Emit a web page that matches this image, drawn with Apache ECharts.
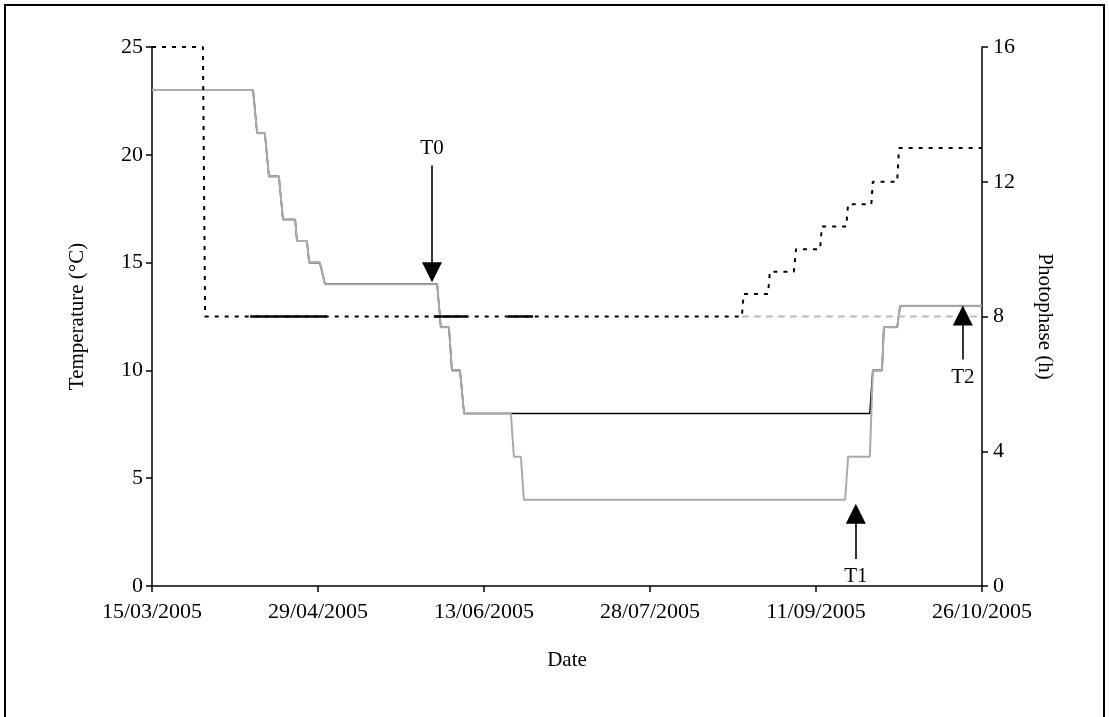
<!DOCTYPE html>
<html>
<head>
<meta charset="utf-8">
<script src="https://cdn.jsdelivr.net/npm/echarts@6/dist/echarts.min.js"></script>
<style>
  html, body { margin: 0; padding: 0; background: #fff; }
  #chart { width: 1109px; height: 717px; }
</style>
</head>
<body>
<div id="chart"></div>
<script>
// x values are days elapsed since 15/03/2005
const dateTickLabels = ['15/03/2005', '29/04/2005', '13/06/2005', '28/07/2005', '11/09/2005', '26/10/2005'];

// Temperature (°C), cold-winter treatment (grey line, down to 4 °C)
const tempCold = [
  [0, 23], [27.4, 23], [28.5, 21], [30.6, 21], [31.7, 19], [34.4, 19], [35.5, 17], [38.8, 17],
  [39.3, 16], [42.0, 16], [42.6, 15], [45.5, 15], [46.9, 14], [77.3, 14], [78.3, 12], [80.5, 12],
  [81.3, 10], [83.5, 10], [84.6, 8], [97.3, 8], [98.1, 6], [100.0, 6], [100.8, 4], [187.9, 4],
  [188.7, 6], [194.6, 6], [195.4, 10], [197.9, 10], [198.4, 12], [202.0, 12], [202.8, 13], [225, 13]
];

// Temperature (°C), mild-winter treatment (black line, stays at 8 °C)
const tempMild = [
  [0, 23], [27.4, 23], [28.5, 21], [30.6, 21], [31.7, 19], [34.4, 19], [35.5, 17], [38.8, 17],
  [39.3, 16], [42.0, 16], [42.6, 15], [45.5, 15], [46.9, 14], [77.3, 14], [78.3, 12], [80.5, 12],
  [81.3, 10], [83.5, 10], [84.6, 8], [194.6, 8], [195.4, 10], [197.9, 10], [198.4, 12], [202.0, 12],
  [202.8, 13], [225, 13]
];

// Photophase (h), lengthening treatment (black dotted)
const photoLong = [
  [0, 16], [13.8, 16], [14.4, 8], [159.9, 8], [160.4, 8.67], [167.0, 8.67], [167.5, 9.33],
  [174.0, 9.33], [174.6, 10], [181.1, 10], [181.6, 10.67], [188.2, 10.67], [188.7, 11.33],
  [195.0, 11.33], [195.4, 12], [202.0, 12], [202.5, 13], [225, 13]
];

// Photophase (h), constant short-day treatment (grey dashed)
const photoShort = [[159.9, 8], [225, 8]];

// Photophase (h), stretches where the 8 h lines coincide as solid
const photoOverlap = [
  [26.6, 8], [47.4, 8], [47.5, '-'],
  [76.4, 8], [85.4, 8], [85.5, '-'],
  [96.5, 8], [103.3, 8]
];

// Sampling-time markers: [name, day, tail value, head value] on the temperature axis
const sampleArrows = [
  ['T0', 75.9, 19.5, 14.55],
  ['T1', 190.8, 1.25, 3.35],
  ['T2', 219.8, 10.5, 12.55]
];

const serif = "'Liberation Serif', 'Times New Roman', serif";

const chart = echarts.init(document.getElementById('chart'), null, { renderer: 'canvas' });

const axisCommon = {
  axisLine: { show: true, lineStyle: { color: '#000', width: 1.5 } },
  axisTick: { show: true, inside: false, length: 6, lineStyle: { color: '#000', width: 1.5 } },
  splitLine: { show: false },
  axisLabel: { color: '#000', fontFamily: serif, fontSize: 22 },
  nameTextStyle: { color: '#000', fontFamily: serif, fontSize: 21 }
};

chart.setOption({
  animation: false,
  backgroundColor: '#fff',
  grid: { left: 152, right: 127, top: 47, bottom: 131, containLabel: false, outerBoundsMode: 'none' },
  graphic: [{
    type: 'rect',
    silent: true,
    shape: { x: 5, y: 5, width: 1099, height: 740 },
    style: { fill: 'none', stroke: '#000', lineWidth: 2 }
  }],
  xAxis: Object.assign({}, axisCommon, {
    type: 'value',
    min: 0, max: 225, interval: 45,
    name: 'Date',
    nameLocation: 'middle',
    nameGap: 64,
    axisLabel: Object.assign({}, axisCommon.axisLabel, {
      margin: 15,
      formatter: v => dateTickLabels[Math.round(v / 45)] || ''
    })
  }),
  yAxis: [
    Object.assign({}, axisCommon, {
      type: 'value',
      position: 'left',
      min: 0, max: 25, interval: 5,
      name: 'Temperature (°C)',
      nameLocation: 'middle',
      nameRotate: 90,
      nameGap: 64,
      axisLabel: Object.assign({}, axisCommon.axisLabel, { margin: 9 })
    }),
    Object.assign({}, axisCommon, {
      type: 'value',
      position: 'right',
      min: 0, max: 16, interval: 4,
      name: 'Photophase (h)',
      nameLocation: 'middle',
      nameRotate: -90,
      nameGap: 52,
      axisLabel: Object.assign({}, axisCommon.axisLabel, { margin: 11 })
    })
  ],
  series: [
    {
      name: 'Temperature mild',
      type: 'line',
      yAxisIndex: 0,
      data: tempMild,
      showSymbol: false,
      z: 2,
      lineStyle: { color: '#000', width: 1.6 }
    },
    {
      name: 'Temperature cold',
      type: 'line',
      yAxisIndex: 0,
      data: tempCold,
      showSymbol: false,
      z: 3,
      lineStyle: { color: '#ababab', width: 2 },
      markLine: {
        silent: true,
        animation: false,
        symbol: ['none', 'triangle'],
        symbolSize: [20, 20],
        lineStyle: { color: '#000', width: 1.6, type: 'solid' },
        label: {
          show: true,
          position: 'start',
          distance: 7,
          formatter: '{b}',
          color: '#000',
          fontFamily: serif,
          fontSize: 21
        },
        data: sampleArrows.map(([name, day, tail, head]) => [
          { name: name, coord: [day, tail] },
          { name: name, coord: [day, head] }
        ])
      }
    },
    {
      name: 'Photophase short',
      type: 'line',
      yAxisIndex: 1,
      data: photoShort,
      showSymbol: false,
      z: 4,
      lineStyle: { color: '#bbbbbb', width: 2, type: [7, 5] }
    },
    {
      name: 'Photophase long',
      type: 'line',
      yAxisIndex: 1,
      data: photoLong,
      showSymbol: false,
      z: 5,
      lineStyle: { color: '#000', width: 2, type: [4, 6] }
    },
    {
      name: 'Photophase overlap',
      type: 'line',
      yAxisIndex: 1,
      data: photoOverlap,
      showSymbol: false,
      connectNulls: false,
      z: 5,
      lineStyle: { color: '#000', width: 2.5 }
    }
  ]
});
</script>
</body>
</html>
